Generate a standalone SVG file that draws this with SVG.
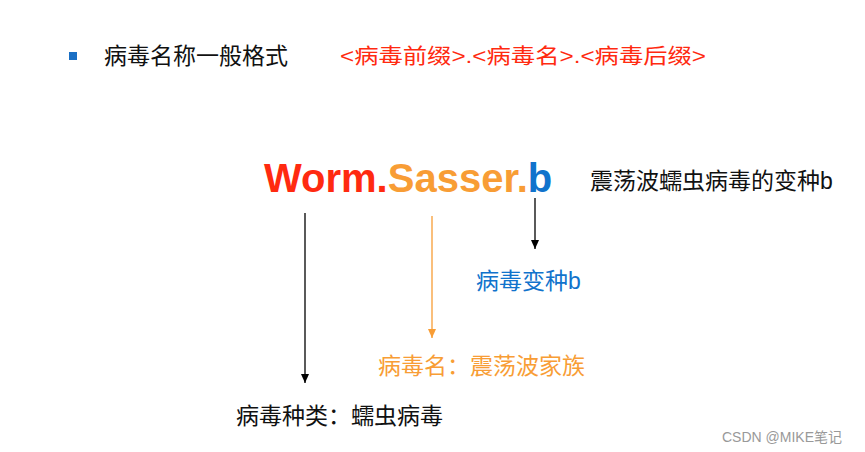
<svg xmlns="http://www.w3.org/2000/svg" width="865" height="452" viewBox="0 0 865 452">
<style>
.t{font-family:"Liberation Sans","Noto Sans CJK SC",sans-serif}
</style>
<defs>
<marker id="ab" markerWidth="10" markerHeight="10" refX="9" refY="5" orient="auto" markerUnits="userSpaceOnUse" viewBox="0 0 10 10"><path d="M0,1 L9,5 L0,9 Z" fill="#000"/></marker>
<marker id="ao" markerWidth="10" markerHeight="10" refX="9" refY="5" orient="auto" markerUnits="userSpaceOnUse" viewBox="0 0 10 10"><path d="M0,1 L9,5 L0,9 Z" fill="#f89d35"/></marker>
</defs>
<rect width="865" height="452" fill="#fff"/>
<g id="heading">
<rect x="69" y="52" width="8" height="8" fill="#1a6fc4"/>
<text class="t" x="104" y="64" font-size="23" fill="#111">病毒名称一般格式</text>
<text class="t" x="340" y="63" font-size="21" fill="#ff2a10" textLength="366" lengthAdjust="spacingAndGlyphs">&lt;病毒前缀&gt;.&lt;病毒名&gt;.&lt;病毒后缀&gt;</text>
</g>
<g id="name">
<text class="t" x="264" y="192" font-size="40" font-weight="bold"><tspan fill="#ff2a10">Worm.</tspan><tspan fill="#f89d35">Sasser.</tspan><tspan fill="#1173cc">b</tspan></text>
<text class="t" x="590" y="189" font-size="23" fill="#111">震荡波蠕虫病毒的变种b</text>
</g>
<g id="connectors" stroke-width="1.3">
<line x1="305" y1="213" x2="305" y2="383" stroke="#000" marker-end="url(#ab)"/>
<line x1="432" y1="216" x2="432" y2="338" stroke="#f89d35" marker-end="url(#ao)"/>
<line x1="535" y1="198" x2="535" y2="249" stroke="#000" marker-end="url(#ab)"/>
</g>
<g id="variant"><text class="t" x="476" y="289" font-size="23" fill="#1173cc">病毒变种b</text></g>
<g id="family"><text class="t" x="378" y="374" font-size="23" fill="#f89d35">病毒名：震荡波家族</text></g>
<g id="type"><text class="t" x="236" y="424" font-size="23" fill="#111">病毒种类：蠕虫病毒</text></g>
<text class="t" x="722" y="442" font-size="14" fill="#999">CSDN @MIKE笔记</text>
</svg>
